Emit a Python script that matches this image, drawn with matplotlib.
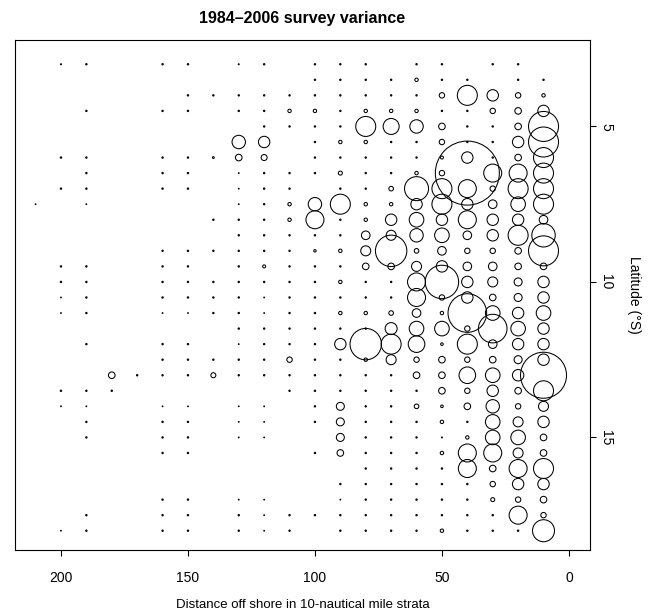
import numpy as np
import matplotlib
matplotlib.use("Agg")
import matplotlib.pyplot as plt

plt.rcParams['font.family'] = ['Liberation Sans', 'DejaVu Sans']

# Latitude rows of the survey grid, 3.0 to 18.0 °S in half-degree steps
latitude = np.arange(3.0, 18.01, 0.5)

# Variance index (circle radius) per 10-nm offshore stratum, one value per
# latitude row from north to south; 0 means the cell was never surveyed.
d10 = [0, .7, 1.7, 5.7, 15, 15, 10, 10, 10, 10, 4.3, 11.7, 15, 3.3, 5.7, 5.7,
       7.3, 5.7, 5.7, 5.7, 23, 10, 5, 5.7, 3.3, 3.3, 10, 5.7, 3.3, 2.7, 11]
d20 = [.7, .7, 2.7, 3.3, 3.3, 5.7, 3.3, 9, 10, 7.3, 5.7, 10, 3.3, 3.3, 4, 4,
       5.7, 7.3, 5.7, 4, 5.7, 3.3, 2.7, 5, 7.3, 5, 9, 5.7, 2.7, 9, .7]
d30 = [.7, 0, 5.7, 2.7, .7, .7, .7, 9, 2.7, 4.3, 5.7, 5.7, 2.7, 4.3, 5, 3.3,
       7.3, 14.3, 4.3, 3.3, 7.3, 5.7, 6.7, 7.3, 7.3, 9, 3.3, 2.7, 2, .7, .7]
d40 = [0, .7, 10, .7, .7, .7, 5.7, 32, 9, 5.7, 9, 4.3, 2.7, 4.3, 5.7, 5.7,
       19.3, 2.7, 10, 2.7, 8.3, 2.7, 3.3, .7, 1.7, 9, 9, .7, .7, .7, .7]
d50 = [.7, .7, 2.7, .7, 3.3, 2.7, 1.5, 2.7, 10, 10, 5.7, 7.3, 4.3, 5.7, 16.7, 2.7,
       1.7, 7.3, 1.3, 3.3, 3.3, 3.3, 1.3, 1.7, .5, 1.7, .7, .7, .7, .7, 1.7]
d60 = [.7, 1.7, .7, 1.7, 6.7, .7, .7, 1.7, 12, 5.7, 7.3, 6.7, 2.3, 5, 9, 9,
       4.3, 7.3, 8.3, 2.7, 3.3, .7, 2.3, .7, .7, .7, .7, .7, .7, .7, .7]
d70 = [0, .7, .7, 1.7, 8, .7, .7, .7, 2.3, 1.7, 5.7, 5, 15.7, 3.3, .7, .7,
       2.3, 6, 10, 5, .7, .7, .7, .7, .7, .7, .7, .7, .7, .7, .7]
d80 = [.7, .7, .7, 1.7, 10, 1.7, .7, .7, .7, 1.7, 1.7, 4.3, 5, 3.3, .7, .7,
       1.7, .7, 15.7, 1.7, .7, .7, .7, .7, .7, .7, .7, .7, .7, .7, .7]
d90 = [.7, .7, .7, .7, .7, 1.7, .7, 2, .7, 10, .7, .7, 1.7, .7, 1.7, .7,
       1.7, .7, 5.7, .7, .7, .7, 4, 4, 4, 3.3, 0, .7, .4, .7, .7]
d100 = [.7, .7, .7, 1.7, .7, .7, .7, .7, 0, 6.7, 9, .7, 1.2, .7, .7, .7,
        .7, .7, .7, .7, .7, .7, .7, .7, 0, .7, 0, 0, 0, .7, 0]
d110 = [0, 0, .7, 1.7, .7, 0, 0, .7, .7, 1.7, 1.7, .7, .7, .7, .7, .7,
        .7, .7, .7, 2.7, .7, .7, 0, 0, 0, 0, 0, 0, 0, .7, .7]
d120 = [.7, 0, .7, .7, .7, 5.7, 3, .7, .7, .7, .7, .7, .7, 1.5, .7, .4,
        .4, .7, .7, .7, .7, 0, .4, .4, .4, 0, 0, 0, .4, .4, .4]
d130 = [.5, 0, .7, .7, 0, 6.7, 3.3, .4, .4, .4, .7, .7, .7, .7, .7, .7,
        .7, .7, .4, .7, .7, 0, .4, .4, .4, 0, 0, 0, .4, .7, .7]
d140 = [0, 0, .7, 0, 0, 0, .9, 0, 0, 0, .7, 0, .7, 0, .7, .7,
        .7, 0, 0, .7, 2.5, 0, 0, 0, 0, 0, 0, 0, 0, 0, 0]
d150 = [.7, 0, .7, .7, 0, 0, .7, .7, .7, 0, 0, 0, .7, .7, .7, .7,
        .4, 0, .7, .7, .7, 0, .4, .7, .7, .7, 0, 0, .7, .7, .7]
d160 = [.7, 0, 0, .7, 0, 0, .7, .7, .7, 0, 0, 0, .7, .7, .7, .7,
        .4, 0, .7, .7, .7, 0, .4, .7, .7, .7, 0, 0, .7, .7, .7]
d170 = [0] * 20 + [.7] + [0] * 10
d180 = [0] * 20 + [3.3, .7] + [0] * 9
d190 = [.7, 0, 0, .7, 0, 0, .7, .7, .7, .4, 0, 0, 0, .7, .7, .7,
        .7, 0, .7, 0, 0, .7, .4, .7, .7, 0, 0, 0, 0, .7, .7]
d200 = [.5, 0, 0, 0, 0, 0, .7, 0, .7, 0, 0, 0, 0, .7, .7, .4,
        .4, 0, 0, 0, 0, .7, .4, 0, 0, 0, 0, 0, 0, 0, .4]
d210 = [0] * 9 + [.4] + [0] * 21

strata = {10: d10, 20: d20, 30: d30, 40: d40, 50: d50, 60: d60, 70: d70,
          80: d80, 90: d90, 100: d100, 110: d110, 120: d120, 130: d130,
          140: d140, 150: d150, 160: d160, 170: d170, 180: d180, 190: d190,
          200: d200, 210: d210}

DPI = 100
fig = plt.figure(figsize=(6.48, 6.11), dpi=DPI)
ax = fig.add_axes([15 / 648, 1 - 550 / 611, 575 / 648, 510 / 611])

px_to_pt = 72 / DPI
for dist, vals in strata.items():
    v = np.asarray(vals, dtype=float)
    keep = v > 0
    if not keep.any():
        continue
    diam_pt = 2 * v[keep] * px_to_pt
    ax.scatter(np.full(keep.sum(), dist), latitude[keep], s=diam_pt ** 2,
               facecolors='none', edgecolors='black', linewidths=0.75,
               marker='o')

ax.set_xlim(218.1, -8.3)
ax.set_ylim(18.62, 2.22)
ax.set_xticks([200, 150, 100, 50, 0])
ax.set_yticks([5, 10, 15])

ax.yaxis.tick_right()
ax.yaxis.set_label_position('right')
ax.tick_params(axis='both', direction='out', length=4.5, width=0.8,
               labelsize=10, colors='black')
ax.tick_params(axis='x', pad=10.5)
ax.tick_params(axis='y', pad=2, labelrotation=-90)
for lab in ax.get_yticklabels():
    lab.set_verticalalignment('center')

for sp in ax.spines.values():
    sp.set_linewidth(0.8)
    sp.set_color('black')

ax.set_title('1984\u20132006 survey variance', fontsize=11.5,
             fontweight='bold', pad=12)
ax.set_xlabel('Distance off shore in 10-nautical mile strata', fontsize=9.5,
              labelpad=10.5)
ax.set_ylabel('Latitude (\u00b0S)', fontsize=10, rotation=-90,
              va='bottom', labelpad=10)

fig.savefig('out.png', dpi=DPI)
